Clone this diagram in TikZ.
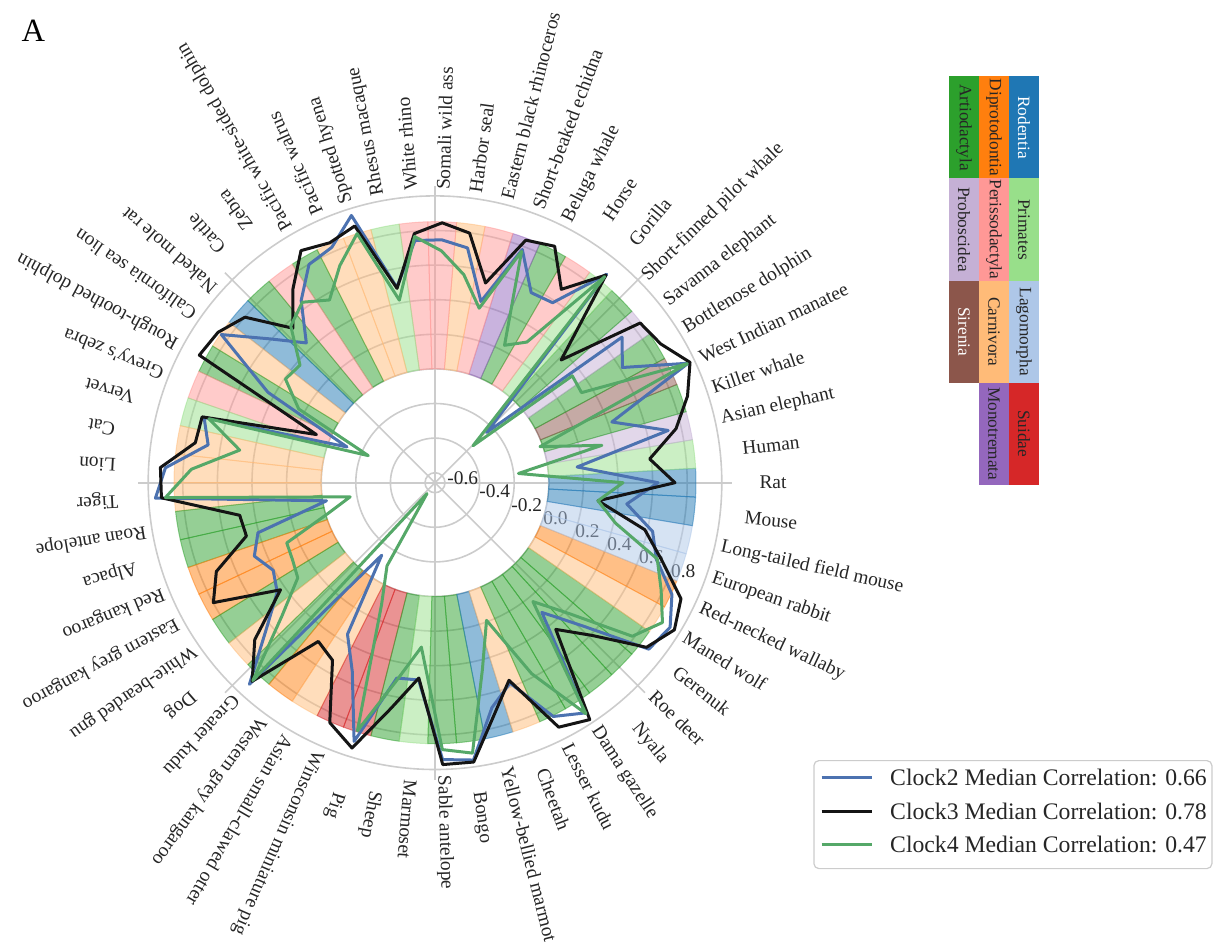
\documentclass[tikz,border=0pt]{standalone}
\usepackage{fontspec}
\setmainfont{Liberation Serif}
\definecolor{cRod}{HTML}{1F77B4}
\definecolor{cPri}{HTML}{98DF8A}
\definecolor{cLag}{HTML}{AEC7E8}
\definecolor{cSui}{HTML}{D62728}
\definecolor{cDip}{HTML}{FF7F0E}
\definecolor{cPer}{HTML}{FF9896}
\definecolor{cCar}{HTML}{FFBB78}
\definecolor{cMon}{HTML}{9467BD}
\definecolor{cArt}{HTML}{2CA02C}
\definecolor{cPro}{HTML}{C5B0D5}
\definecolor{cSir}{HTML}{8C564B}
\definecolor{cgrid}{HTML}{CCCCCC}
\definecolor{cBlue}{HTML}{4C72B0}
\definecolor{cGreen}{HTML}{55A868}
\definecolor{ctext}{HTML}{262626}
\newcommand{\labfont}{\fontsize{19.4pt}{23pt}\selectfont}
\newcommand{\legfont}{\fontsize{23.7pt}{28pt}\selectfont}
\newcommand{\cellfont}{\fontsize{17.3pt}{20pt}\selectfont}
% short labels: centred at radius 338; long labels: start at radius 293
\newcommand{\splabc}[2]{%
  \pgfmathsetmacro{\myang}{#1*6.3157895}%
  \node[splab, rotate=\myang, anchor=center] (l#1) at (\myang:338pt) {#2};}
\newcommand{\splabw}[2]{%
  \pgfmathsetmacro{\myang}{#1*6.3157895}%
  \node[splab, rotate=\myang, anchor=west] (l#1) at (\myang:293pt) {#2};}
\begin{document}
\begin{tikzpicture}[x=1pt,y=1pt,
  gridline/.style={draw=cgrid, line width=1.6pt},
  splab/.style={inner sep=0pt, font=\labfont, text=ctext},
  rlab/.style={inner sep=0pt, font=\labfont, text=ctext, anchor=south west, xshift=3pt, yshift=1.5pt},
  clk2/.style={draw=cBlue, line width=3pt, line join=round},
  clk3/.style={draw=black!92, line width=3pt, line join=round},
  clk4/.style={draw=cGreen, line width=3pt, line join=round},
  cell/.style={rotate=-90, minimum width=102pt, minimum height=30pt, inner sep=0pt, font=\cellfont, text=ctext},
  legtext/.style={anchor=west, inner sep=0pt, font=\legfont, text=ctext}]

\useasboundingbox (-435,-465.3) rectangle (779,482.7);

% grid
\foreach \r in {10,44.6,79.2,113.8,148.4,183,217.6,252.2,286.8}
  \draw[gridline] (0,0) circle[radius=\r pt];
\foreach \a in {0,45,...,315}
  \draw[gridline] (0,0) -- (\a:297pt);

% radial labels
\foreach \r/\t [count=\k] in {10/-0.6,44.6/-0.4,79.2/-0.2,113.8/0.0,148.4/0.2,183/0.4,217.6/0.6,252.2/0.8}
  \node[rlab] (r\k) at (-22.5:\r pt) {\t};

% bars
\foreach \cc [count=\i from 0] in {Rod,Pri,Pro,Art,Sir,Art,Pro,Art,Pri,Per,Art,Mon,Per,Car,Per,Per,Pri,Car,Car,Art,Per,Art,Rod,Car,Art,Per,Pri,Car,Car,Car,Art,Art,Dip,Dip,Art,Car,Art,Dip,Car,Sui,Sui,Art,Pri,Art,Art,Rod,Car,Art,Art,Art,Art,Art,Car,Dip,Lag,Lag,Rod} {
  \pgfmathsetmacro\angA{(\i-0.5)*6.3157895}
  \pgfmathsetmacro\angB{(\i+0.5)*6.3157895}
  \path[fill=c\cc, fill opacity=0.5, draw=c\cc, draw opacity=0.5, line width=1pt]
    (\angA:113.8pt) arc[start angle=\angA, end angle=\angB, radius=113.8pt]
    -- (\angB:261pt) arc[start angle=\angB, end angle=\angA, radius=261pt] -- cycle;
}

% data lines
\foreach \r [count=\i from 0] in {223,143,239,187,280,220,237,72,270,215,213,249,187,237,243,243,199,280,257,252,226,190,219,260,190,95,240,230,270,280,110,184,195,184,192,224,274,90,175,206,271,199,198,277,280,232,214,262,275,168,205,271,276,262,234,223,193}
  \coordinate (b\i) at ({\i*6.3157895}:\r pt);
\foreach \r [count=\i from 0] in {240,216,247,267,282,265,260,176,269,231,265,259,206,252,260,250,198,269,262,268,240,210,252,264,268,128,242,243,275,274,198,196,236,252,188,239,270,197,205,262,278,230,196,282,282,240,211,274,283,190,219,268,281,272,240,215,164}
  \coordinate (k\i) at ({\i*6.3157895}:\r pt);
\foreach \r [count=\i from 0] in {188,84,171,111,279,172,174,53,267,168,154,247,180,210,232,247,186,261,237,211,224,213,179,182,155,72,235,198,244,270,86,110,160,162,167,203,269,13.5,96,133,260,202,165,267,273,193,147,214,276,154,188,250,267,250,235,185,164}
  \coordinate (g\i) at ({\i*6.3157895}:\r pt);
\draw[clk2] (b0) \foreach \i in {1,...,56} { -- (b\i) } -- cycle;
\draw[clk3] (k0) \foreach \i in {1,...,56} { -- (k\i) } -- cycle;
\draw[clk4] (g0) \foreach \i in {1,...,56} { -- (g\i) } -- cycle;

% species labels
\foreach \i/\t/\m in {0/Rat/c,1/Human/c,2/Asian elephant/w,3/Killer whale/w,4/West Indian manatee/w,5/Bottlenose dolphin/w,6/Savanna elephant/w,7/Short-finned pilot whale/w,8/Gorilla/c,9/Horse/c,10/Beluga whale/w,11/Short-beaked echidna/w,12/Eastern black rhinoceros/w,13/Harbor seal/w,14/Somali wild ass/w,15/White rhino/w,16/Rhesus macaque/w,17/Spotted hyena/w,18/Pacific walrus/w,19/Pacific white-sided dolphin/w,20/Zebra/c,21/Cattle/c,22/Naked mole rat/w,23/California sea lion/w,24/Rough-toothed dolphin/w,25/Grevy\textquotesingle s zebra/w,26/Vervet/c,27/Cat/c,28/Lion/c,29/Tiger/c,30/Roan antelope/w,31/Alpaca/c,32/Red kangaroo/w,33/Eastern grey kangaroo/w,34/White-bearded gnu/w,35/Dog/c,36/Greater kudu/w,37/Western grey kangaroo/w,38/Asian small-clawed otter/w,39/Winsconsin miniature pig/w,40/Pig/c,41/Sheep/c,42/Marmoset/c,43/Sable antelope/w,44/Bongo/c,45/Yellow-bellied marmot/w,46/Cheetah/c,47/Lesser kudu/w,48/Dama gazelle/w,49/Nyala/c,50/Roe deer/c,51/Gerenuk/c,52/Maned wolf/w,53/Red-necked wallaby/w,54/European rabbit/w,55/Long-tailed field mouse/w,56/Mouse/c}
  {\csname splab\m\endcsname{\i}{\t}}

% panel letter
\node[inner sep=0pt, font=\fontsize{32.5pt}{36pt}\selectfont] (panelA) at (-401.7,451.9) {A};

% order legend cells
\node[cell, fill=cArt] (kArt) at (529,355.2) {Artiodactyla};
\node[cell, fill=cPro] (kPro) at (529,253.2) {Proboscidea};
\node[cell, fill=cSir, text=white] (kSir) at (529,151) {Sirenia};
\node[cell, fill=cDip] (kDip) at (559,355.2) {Diprotodontia};
\node[cell, fill=cPer] (kPer) at (559,253.2) {Perissodactyla};
\node[cell, fill=cCar] (kCar) at (559,151) {Carnivora};
\node[cell, fill=cMon] (kMon) at (559,48.9) {Monotremata};
\node[cell, fill=cRod, text=white] (kRod) at (589,355.2) {Rodentia};
\node[cell, fill=cPri] (kPri) at (589,253.2) {Primates};
\node[cell, fill=cLag] (kLag) at (589,151) {Lagomorpha};
\node[cell, fill=cSui] (kSui) at (589,48.9) {Suidae};

% clock legend
\node[draw=cgrid, line width=1.2pt, rounded corners=5pt, fill=white, minimum width=398pt, minimum height=108pt, inner sep=0pt, anchor=north west] (legbox) at (378.3,-277.3) {};
\coordinate (la2) at (386.7,-295);   \coordinate (lb2) at (436.7,-295);
\coordinate (la3) at (386.7,-329);   \coordinate (lb3) at (436.7,-329);
\coordinate (la4) at (386.7,-361.6); \coordinate (lb4) at (436.7,-361.6);
\draw[clk2] (la2) -- (lb2);
\draw[clk3] (la3) -- (lb3);
\draw[clk4] (la4) -- (lb4);
\node[legtext] (t2) at (455,-295) {Clock2 Median Correlation: 0.66};
\node[legtext] (t3) at (455,-329) {Clock3 Median Correlation: 0.78};
\node[legtext] (t4) at (455,-361.6) {Clock4 Median Correlation: 0.47};
\end{tikzpicture}
\end{document}
